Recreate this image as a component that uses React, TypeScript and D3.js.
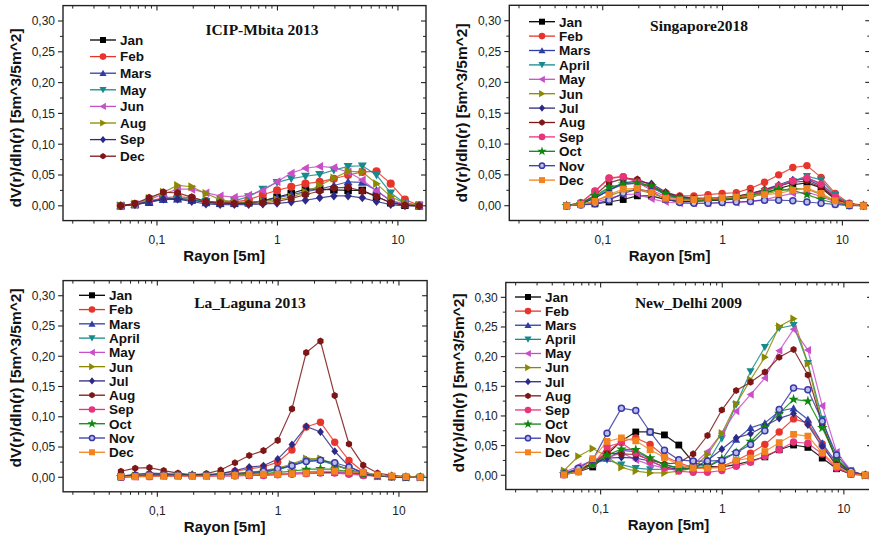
import React from "react";
import * as d3 from "d3";

// AERONET size bins (µm)
const radius = [
  0.05, 0.065604, 0.086077, 0.112939, 0.148184, 0.194429, 0.255105, 0.334716,
  0.439173, 0.576227, 0.756052, 0.991996, 1.301571, 1.707757, 2.240702,
  2.939966, 3.857452, 5.06126, 6.640745, 8.713145, 11.432287, 15.0,
];

const yTicks = [0, 0.05, 0.1, 0.15, 0.2, 0.25, 0.3];
const xTicks = [0.1, 1, 10];
const xTickLabels = ["0,1", "1", "10"];

const months12 = ["Jan", "Feb", "Mars", "April", "May", "Jun", "Jul", "Aug", "Sep", "Oct", "Nov", "Dec"];

// ICIP-Mbita 2013
const mbitaLabels = ["Jan", "Feb", "Mars", "May", "Jun", "Aug", "Sep", "Dec"];
const mbitaValues = [
  [0, 0.002, 0.006, 0.011, 0.012, 0.010, 0.006, 0.004, 0.004, 0.005, 0.008, 0.014, 0.020, 0.027, 0.027, 0.026, 0.025, 0.025, 0.015, 0.005, 0.001, 0],
  [0, 0.003, 0.008, 0.013, 0.015, 0.013, 0.008, 0.005, 0.006, 0.010, 0.018, 0.025, 0.031, 0.036, 0.039, 0.044, 0.050, 0.055, 0.056, 0.036, 0.010, 0.001],
  [0, 0.002, 0.006, 0.010, 0.011, 0.009, 0.005, 0.004, 0.004, 0.005, 0.008, 0.013, 0.018, 0.023, 0.027, 0.033, 0.039, 0.038, 0.025, 0.008, 0.002, 0],
  [0, 0.002, 0.007, 0.011, 0.011, 0.010, 0.007, 0.006, 0.008, 0.015, 0.027, 0.038, 0.044, 0.048, 0.051, 0.058, 0.064, 0.065, 0.050, 0.021, 0.004, 0.001],
  [0, 0.002, 0.010, 0.019, 0.027, 0.027, 0.021, 0.016, 0.014, 0.017, 0.025, 0.039, 0.053, 0.061, 0.064, 0.062, 0.055, 0.042, 0.024, 0.009, 0.003, 0.001],
  [0, 0.003, 0.012, 0.022, 0.033, 0.031, 0.020, 0.010, 0.006, 0.006, 0.007, 0.010, 0.014, 0.022, 0.033, 0.045, 0.056, 0.055, 0.036, 0.015, 0.004, 0.001],
  [0, 0.002, 0.007, 0.011, 0.011, 0.007, 0.003, 0.002, 0.002, 0.002, 0.003, 0.004, 0.006, 0.009, 0.013, 0.016, 0.016, 0.013, 0.007, 0.002, 0, 0],
  [0, 0.004, 0.013, 0.022, 0.021, 0.014, 0.007, 0.005, 0.004, 0.004, 0.005, 0.007, 0.012, 0.018, 0.024, 0.029, 0.030, 0.024, 0.015, 0.005, 0.001, 0],
];

// Singapore 2018
const singaporeValues = [
  [0, 0.002, 0.003, 0.006, 0.010, 0.016, 0.016, 0.010, 0.007, 0.007, 0.008, 0.009, 0.011, 0.014, 0.020, 0.028, 0.034, 0.037, 0.029, 0.010, 0.002, 0],
  [0, 0.005, 0.024, 0.045, 0.047, 0.040, 0.030, 0.021, 0.016, 0.016, 0.018, 0.020, 0.021, 0.028, 0.038, 0.050, 0.062, 0.065, 0.046, 0.020, 0.004, 0.001],
  [0, 0.003, 0.013, 0.025, 0.035, 0.036, 0.030, 0.018, 0.012, 0.010, 0.010, 0.012, 0.014, 0.018, 0.025, 0.032, 0.040, 0.045, 0.036, 0.015, 0.003, 0],
  [0, 0.003, 0.014, 0.028, 0.036, 0.037, 0.030, 0.018, 0.012, 0.010, 0.010, 0.011, 0.013, 0.017, 0.023, 0.031, 0.040, 0.048, 0.042, 0.017, 0.003, 0],
  [0, 0.002, 0.006, 0.012, 0.018, 0.019, 0.011, 0.006, 0.004, 0.004, 0.004, 0.005, 0.005, 0.007, 0.010, 0.015, 0.020, 0.022, 0.015, 0.006, 0.001, 0],
  [0, 0.002, 0.008, 0.016, 0.024, 0.026, 0.020, 0.012, 0.009, 0.009, 0.010, 0.011, 0.012, 0.015, 0.019, 0.024, 0.028, 0.027, 0.018, 0.007, 0.001, 0],
  [0, 0.003, 0.012, 0.025, 0.037, 0.040, 0.036, 0.022, 0.015, 0.012, 0.012, 0.013, 0.015, 0.019, 0.026, 0.034, 0.042, 0.043, 0.032, 0.013, 0.003, 0],
  [0, 0.004, 0.017, 0.037, 0.044, 0.043, 0.033, 0.020, 0.014, 0.012, 0.012, 0.013, 0.015, 0.020, 0.026, 0.032, 0.038, 0.040, 0.030, 0.012, 0.002, 0],
  [0, 0.005, 0.023, 0.044, 0.047, 0.038, 0.025, 0.015, 0.011, 0.010, 0.011, 0.012, 0.014, 0.018, 0.024, 0.032, 0.040, 0.045, 0.035, 0.014, 0.003, 0],
  [0, 0.003, 0.016, 0.030, 0.035, 0.037, 0.032, 0.020, 0.012, 0.009, 0.009, 0.010, 0.012, 0.016, 0.022, 0.026, 0.025, 0.018, 0.010, 0.004, 0.001, 0],
  [0, 0.001, 0.003, 0.009, 0.020, 0.027, 0.023, 0.011, 0.005, 0.004, 0.004, 0.005, 0.006, 0.007, 0.009, 0.009, 0.008, 0.006, 0.004, 0.002, 0, 0],
  [0, 0.002, 0.007, 0.018, 0.027, 0.028, 0.021, 0.012, 0.009, 0.010, 0.012, 0.013, 0.014, 0.016, 0.018, 0.020, 0.025, 0.028, 0.020, 0.008, 0.002, 0],
];

// La_Laguna 2013
const lagunaValues = [
  [0.001, 0.002, 0.003, 0.003, 0.003, 0.003, 0.003, 0.003, 0.003, 0.003, 0.004, 0.005, 0.006, 0.007, 0.008, 0.008, 0.007, 0.005, 0.003, 0.001, 0, 0],
  [0.001, 0.003, 0.004, 0.004, 0.004, 0.003, 0.004, 0.006, 0.010, 0.014, 0.017, 0.025, 0.045, 0.083, 0.091, 0.058, 0.028, 0.009, 0.003, 0.001, 0, 0],
  [0.001, 0.002, 0.003, 0.003, 0.003, 0.003, 0.003, 0.004, 0.005, 0.007, 0.009, 0.013, 0.020, 0.029, 0.029, 0.021, 0.013, 0.006, 0.002, 0.001, 0, 0],
  [0.001, 0.002, 0.003, 0.003, 0.003, 0.003, 0.003, 0.004, 0.005, 0.006, 0.008, 0.012, 0.019, 0.027, 0.028, 0.020, 0.012, 0.005, 0.002, 0.001, 0, 0],
  [0, 0.001, 0.002, 0.002, 0.002, 0.002, 0.002, 0.003, 0.003, 0.004, 0.005, 0.006, 0.007, 0.009, 0.010, 0.009, 0.007, 0.004, 0.002, 0.001, 0, 0],
  [0.001, 0.003, 0.004, 0.004, 0.004, 0.003, 0.003, 0.004, 0.006, 0.008, 0.011, 0.015, 0.022, 0.031, 0.031, 0.021, 0.012, 0.005, 0.002, 0.001, 0, 0],
  [0.002, 0.005, 0.007, 0.006, 0.005, 0.004, 0.004, 0.006, 0.011, 0.017, 0.019, 0.030, 0.054, 0.084, 0.075, 0.043, 0.018, 0.006, 0.002, 0.001, 0, 0],
  [0.010, 0.015, 0.016, 0.011, 0.007, 0.004, 0.006, 0.012, 0.024, 0.036, 0.044, 0.061, 0.113, 0.206, 0.225, 0.135, 0.055, 0.020, 0.007, 0.003, 0.001, 0],
  [0, 0.001, 0.001, 0.002, 0.002, 0.002, 0.002, 0.002, 0.002, 0.003, 0.003, 0.004, 0.005, 0.006, 0.007, 0.007, 0.005, 0.003, 0.002, 0.001, 0, 0],
  [0.001, 0.002, 0.003, 0.003, 0.003, 0.003, 0.003, 0.003, 0.004, 0.005, 0.006, 0.008, 0.010, 0.013, 0.014, 0.013, 0.009, 0.005, 0.002, 0.001, 0, 0],
  [0.001, 0.003, 0.004, 0.004, 0.004, 0.003, 0.003, 0.004, 0.006, 0.008, 0.010, 0.014, 0.019, 0.026, 0.028, 0.024, 0.017, 0.008, 0.003, 0.001, 0, 0],
  [0.001, 0.001, 0.002, 0.002, 0.002, 0.002, 0.002, 0.003, 0.003, 0.004, 0.005, 0.005, 0.006, 0.007, 0.009, 0.010, 0.009, 0.008, 0.004, 0.002, 0.001, 0],
];

// New_Delhi 2009
const delhiValues = [
  [0.001, 0.006, 0.014, 0.035, 0.058, 0.073, 0.073, 0.068, 0.051, 0.022, 0.015, 0.014, 0.018, 0.024, 0.031, 0.043, 0.051, 0.047, 0.029, 0.011, 0.002, 0],
  [0.001, 0.007, 0.020, 0.040, 0.057, 0.063, 0.052, 0.032, 0.021, 0.013, 0.012, 0.015, 0.025, 0.037, 0.052, 0.073, 0.095, 0.088, 0.053, 0.014, 0.002, 0],
  [0.002, 0.008, 0.020, 0.028, 0.042, 0.040, 0.028, 0.018, 0.012, 0.011, 0.014, 0.026, 0.060, 0.080, 0.088, 0.108, 0.113, 0.094, 0.054, 0.021, 0.004, 0],
  [0.004, 0.010, 0.020, 0.026, 0.018, 0.012, 0.010, 0.010, 0.010, 0.012, 0.021, 0.062, 0.119, 0.175, 0.216, 0.248, 0.253, 0.189, 0.095, 0.025, 0.006, 0],
  [0.005, 0.015, 0.025, 0.029, 0.038, 0.026, 0.018, 0.012, 0.011, 0.018, 0.040, 0.071, 0.108, 0.136, 0.164, 0.210, 0.246, 0.211, 0.117, 0.039, 0.008, 0],
  [0.008, 0.032, 0.045, 0.032, 0.013, 0.007, 0.004, 0.004, 0.007, 0.012, 0.035, 0.071, 0.120, 0.161, 0.199, 0.251, 0.264, 0.188, 0.085, 0.025, 0.004, 0],
  [0.002, 0.009, 0.020, 0.029, 0.030, 0.029, 0.024, 0.014, 0.010, 0.012, 0.025, 0.044, 0.063, 0.070, 0.083, 0.096, 0.104, 0.085, 0.048, 0.018, 0.004, 0],
  [0.002, 0.008, 0.020, 0.037, 0.036, 0.035, 0.026, 0.019, 0.021, 0.036, 0.067, 0.110, 0.143, 0.157, 0.174, 0.199, 0.212, 0.169, 0.085, 0.025, 0.004, 0],
  [0.001, 0.006, 0.018, 0.048, 0.055, 0.038, 0.024, 0.013, 0.007, 0.005, 0.005, 0.008, 0.015, 0.022, 0.032, 0.043, 0.056, 0.054, 0.036, 0.012, 0.003, 0],
  [0.002, 0.008, 0.018, 0.034, 0.044, 0.043, 0.029, 0.018, 0.012, 0.012, 0.015, 0.028, 0.038, 0.057, 0.081, 0.104, 0.128, 0.125, 0.080, 0.028, 0.006, 0],
  [0.002, 0.012, 0.026, 0.071, 0.113, 0.109, 0.073, 0.042, 0.026, 0.024, 0.024, 0.025, 0.038, 0.052, 0.075, 0.111, 0.147, 0.144, 0.091, 0.034, 0.007, 0],
  [0.001, 0.006, 0.028, 0.057, 0.063, 0.058, 0.043, 0.030, 0.018, 0.012, 0.012, 0.013, 0.025, 0.029, 0.040, 0.055, 0.069, 0.066, 0.038, 0.015, 0.003, 0],
];

// Origin-like series styles, by order in the plot
const styles = [
  { color: "#000000", marker: "square" },
  { color: "#e8352b", marker: "circle" },
  { color: "#2f3fa8", marker: "up" },
  { color: "#168a8c", marker: "down" },
  { color: "#c94fc9", marker: "left" },
  { color: "#8a8a00", marker: "right" },
  { color: "#2c2a86", marker: "diamond" },
  { color: "#7d1616", marker: "hexagon" },
  { color: "#e8347c", marker: "circle" },
  { color: "#0d870d", marker: "star" },
  { color: "#3838a8", marker: "ring" },
  { color: "#f2831f", marker: "square" },
];

const panels = [
  { title: "ICIP-Mbita 2013", labels: mbitaLabels, values: mbitaValues, left: 63, top: 5.6, width: 363, height: 215,
    titleX: 262, titleY: 35, yTitleX: 21, yTitleY: 118, markSize: 7.5,
    legX: 90, legY: 40, legDy: 16.6 },
  { title: "Singapore2018", labels: months12, values: singaporeValues, left: 509.3, top: 5.3, width: 361, height: 215.2,
    titleX: 699, titleY: 31, yTitleX: 467, yTitleY: 113, markSize: 6.8,
    legX: 529, legY: 21.7, legDy: 14.4 },
  { title: "La_Laguna 2013", labels: months12, values: lagunaValues, left: 63.1, top: 280.6, width: 364, height: 211.2,
    titleX: 250, titleY: 307.5, yTitleX: 21, yTitleY: 378, markSize: 6.8,
    legX: 79, legY: 295.3, legDy: 14.27 },
  { title: "New_Delhi 2009", labels: months12, values: delhiValues, left: 505.8, top: 282.5, width: 366.4, height: 207,
    titleX: 688.5, titleY: 308, yTitleX: 464, yTitleY: 383, markSize: 6.8,
    legX: 515, legY: 297, legDy: 14.12 },
];

const sans = "'Liberation Sans', Arial, sans-serif";
const serif = "'Liberation Serif', 'Times New Roman', serif";

function Marker({ kind, color, x, y, s }) {
  const h = s / 2;
  const tri = d3.symbol(d3.symbolTriangle, s * s * 0.62)();
  switch (kind) {
    case "square":
      return <rect x={x - h} y={y - h} width={s} height={s} fill={color} />;
    case "circle":
      return <circle cx={x} cy={y} r={h + 0.3} fill={color} />;
    case "ring":
      return <circle cx={x} cy={y} r={h - 0.4} fill="#b9bde8" stroke={color} strokeWidth={1.5} />;
    case "up":
      return <path d={tri} transform={`translate(${x},${y + 0.8})`} fill={color} />;
    case "down":
      return <path d={tri} transform={`translate(${x},${y - 0.8}) rotate(180)`} fill={color} />;
    case "left":
      return <path d={tri} transform={`translate(${x + 0.8},${y}) rotate(-90)`} fill={color} />;
    case "right":
      return <path d={tri} transform={`translate(${x - 0.8},${y}) rotate(90)`} fill={color} />;
    case "diamond":
      return <path d={`M0,${-h * 1.2}L${h},0L0,${h * 1.2}L${-h},0Z`} transform={`translate(${x},${y})`} fill={color} />;
    case "hexagon": {
      const pts = d3.range(6).map((k) => {
        const a = (Math.PI / 3) * k + Math.PI / 6;
        return [Math.cos(a) * h * 1.05, Math.sin(a) * h * 1.05];
      });
      return <path d={"M" + pts.join("L") + "Z"} transform={`translate(${x},${y})`} fill={color} />;
    }
    case "star":
      return <path d={d3.symbol(d3.symbolStar, s * s * 0.75)()} transform={`translate(${x},${y})`} fill={color} />;
    default:
      return null;
  }
}

function Panel({ p }) {
  const x = d3.scaleLog().domain([0.0166, 17.1]).range([p.left, p.left + p.width]);
  const y = d3.scaleLinear().domain([-0.024, 0.325]).range([p.top + p.height, p.top]);
  const line = d3.line().x((d, i) => x(radius[i])).y((d) => y(d));
  const bottom = p.top + p.height;
  const right = p.left + p.width;

  const minorX = [];
  [0.01, 0.1, 1].forEach((dec) => {
    for (let k = 2; k <= 9; k++) {
      const v = dec * k;
      if (v > 0.0166 && v < 17.1) minorX.push(v);
    }
  });
  const minorY = d3.range(0.025, 0.3, 0.05);

  return (
    <g>
      {/* ticks */}
      {xTicks.map((t) => (
        <g key={"xt" + t}>
          <line x1={x(t)} x2={x(t)} y1={bottom} y2={bottom + 5} stroke="#222" strokeWidth={1.1} />
          <line x1={x(t)} x2={x(t)} y1={p.top} y2={p.top + 5} stroke="#222" strokeWidth={1.1} />
        </g>
      ))}
      {minorX.map((t) => (
        <g key={"xm" + t}>
          <line x1={x(t)} x2={x(t)} y1={bottom} y2={bottom + 3} stroke="#222" strokeWidth={1} />
          <line x1={x(t)} x2={x(t)} y1={p.top} y2={p.top + 3} stroke="#222" strokeWidth={1} />
        </g>
      ))}
      {yTicks.map((t) => (
        <g key={"yt" + t}>
          <line x1={p.left - 5} x2={p.left} y1={y(t)} y2={y(t)} stroke="#222" strokeWidth={1.1} />
          <line x1={right - 5} x2={right} y1={y(t)} y2={y(t)} stroke="#222" strokeWidth={1.1} />
          <text x={p.left - 8} y={y(t)} dy="0.36em" textAnchor="end" fontFamily={sans} fontSize={12} fill="#222">
            {d3.format(".2f")(t).replace(".", ",")}
          </text>
        </g>
      ))}
      {minorY.map((t) => (
        <g key={"ym" + t}>
          <line x1={p.left - 3} x2={p.left} y1={y(t)} y2={y(t)} stroke="#222" strokeWidth={1} />
          <line x1={right - 3} x2={right} y1={y(t)} y2={y(t)} stroke="#222" strokeWidth={1} />
        </g>
      ))}
      {xTicks.map((t, i) => (
        <text key={"xl" + t} x={x(t)} y={bottom + 23} textAnchor="middle" fontFamily={sans} fontSize={12} fill="#222">
          {xTickLabels[i]}
        </text>
      ))}

      {/* series */}
      {p.values.map((vals, si) => (
        <path key={"l" + si} d={line(vals)} fill="none" stroke={styles[si].color} strokeOpacity={0.85} strokeWidth={1.2} />
      ))}
      {p.values.map((vals, si) => (
        <g key={"m" + si}>
          {vals.map((v, i) => (
            <Marker key={i} kind={styles[si].marker} color={styles[si].color} x={x(radius[i])} y={y(v)} s={p.markSize} />
          ))}
        </g>
      ))}

      {/* frame */}
      <rect x={p.left} y={p.top} width={p.width} height={p.height} fill="none" stroke="#222" strokeWidth={1.4} />

      {/* legend */}
      {p.labels.map((lab, i) => {
        const ly = p.legY + i * p.legDy;
        return (
          <g key={"lg" + lab}>
            <line x1={p.legX} x2={p.legX + 26} y1={ly} y2={ly} stroke={styles[i].color} strokeWidth={1.3} />
            <Marker kind={styles[i].marker} color={styles[i].color} x={p.legX + 13} y={ly} s={6} />
            <text x={p.legX + 30} y={ly} dy="0.36em" fontFamily={sans} fontSize={13.5} fontWeight="bold" fill="#111">
              {lab}
            </text>
          </g>
        );
      })}

      {/* titles */}
      <text x={p.titleX} y={p.titleY} textAnchor="middle" fontFamily={serif} fontWeight="bold" fontSize={15.5} fill="#111">
        {p.title}
      </text>
      <text x={p.left + p.width * 0.444} y={bottom + 40} textAnchor="middle" fontFamily={sans} fontWeight="bold" fontSize={15} fill="#111">
        Rayon [5m]
      </text>
      <text transform={`translate(${p.yTitleX},${p.yTitleY}) rotate(-90)`} textAnchor="middle" fontFamily={sans} fontWeight="bold" fontSize={15.5} fill="#111">
        dV(r)/dln(r) [5m^3/5m^2]
      </text>
    </g>
  );
}

export default function App() {
  return (
    <svg width={869} height={536} style={{ position: "absolute", left: 0, top: 0, background: "#fff" }}>
      {panels.map((p) => (
        <Panel key={p.title} p={p} />
      ))}
    </svg>
  );
}
